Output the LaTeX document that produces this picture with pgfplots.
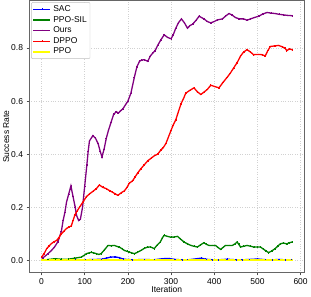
\documentclass[border=0pt]{standalone}
\usepackage{pgfplots}
\pgfplotsset{compat=1.18}
\usepackage{fontspec}
\setmainfont{Liberation Sans}
\definecolor{mplgreen}{HTML}{008000}
\definecolor{mplpurple}{HTML}{800080}
\definecolor{mplyellow}{HTML}{FFFF00}
\begin{document}
\begin{tikzpicture}
\begin{axis}[
  scale only axis, width=275bp, height=272bp,
  xmin=-29, xmax=609, ymin=-0.047, ymax=0.98,
  xtick={0,100,200,300,400,500,600},
  ytick={0,0.2,0.4,0.6,0.8},
  yticklabel style={/pgf/number format/.cd,fixed,fixed zerofill,precision=1},
  /pgf/number format/assume math mode=true,
  tick label style={font=\fontsize{8.5}{10}\selectfont},
  label style={font=\fontsize{8.5}{10}\selectfont},
  xlabel={Iteration}, ylabel={Success Rate},
  xlabel style={yshift=5pt}, ylabel style={yshift=-5pt},
  tick align=outside, xtick pos=bottom, ytick pos=left,
  major tick length=2.5pt,
  every tick/.style={black!70, line width=0.5pt},
  axis line style={black!60, line width=0.6pt},
  grid=major, grid style={dotted, black!18, line width=0.5pt},
  legend cell align=left,
  legend style={font=\fontsize{8.5}{9.5}\selectfont, draw=black!25, rounded corners=1pt, inner sep=1.2pt, row sep=-0.8pt, at={(0.008,0.993)}, anchor=north west},
  every axis plot/.append style={line width=1.3pt, mark=+, mark size=0.9pt, mark options={line width=0.6pt}},
]
\addplot[color=blue] coordinates {
(0,0) (20,0) (40,0.001) (60,0.001) (80,0.002) (100,0.002) (120,0.003) (140,0.004) (150,0.008) (160,0.012) (170,0.013) (180,0.01) (190,0.004) (210,0.002) (240,0.003) (260,0.002) (280,0.006) (295,0.007) (310,0.003) (325,0.002) (340,0.002) (360,0.006) (370,0.008) (380,0.004) (395,0.002) (410,0.002) (430,0.004) (450,0.002) (465,0.002) (480,0.003) (500,0.005) (520,0.002) (535,0.002) (550,0.003) (565,0.002) (580,0.002)
};
\addlegendentry{SAC}
\addplot[color=mplgreen] coordinates {
(0,0.0) (15,0.003) (31,0.006) (46,0.004) (61,0.004) (77,0.008) (92,0.012) (98,0.018) (104,0.025) (110,0.028) (115,0.03) (121,0.028) (127,0.025) (133,0.022) (138,0.025) (146,0.04) (154,0.056) (161,0.055) (169,0.056) (175,0.052) (180,0.05) (186,0.044) (192,0.037) (198,0.034) (203,0.031) (209,0.028) (215,0.025) (222,0.03) (230,0.037) (238,0.045) (246,0.05) (253,0.05) (261,0.044) (268,0.058) (275,0.069) (280,0.085) (284,0.094) (292,0.09) (300,0.087) (307,0.088) (315,0.09) (322,0.08) (330,0.069) (338,0.062) (346,0.056) (353,0.053) (361,0.05) (368,0.058) (376,0.066) (382,0.06) (388,0.056) (395,0.056) (403,0.056) (409,0.048) (415,0.041) (420,0.048) (426,0.056) (434,0.056) (442,0.056) (448,0.062) (453,0.069) (457,0.06) (461,0.05) (468,0.053) (476,0.056) (484,0.053) (492,0.05) (500,0.05) (507,0.05) (514,0.042) (520,0.035) (526,0.029) (533,0.035) (541,0.044) (547,0.053) (553,0.062) (560,0.065) (568,0.062) (574,0.066) (580,0.069)
};
\addlegendentry{PPO-SIL}
\addplot[color=mplpurple] coordinates {
(0,0.0) (4,0.01) (15,0.025) (23,0.037) (30,0.05) (38,0.07) (46,0.11) (50,0.15) (54,0.18) (58,0.22) (63,0.25) (68,0.28) (73,0.24) (78,0.20) (81,0.17) (86,0.15) (90,0.155) (95,0.20) (100,0.28) (105,0.36) (108,0.41) (111,0.45) (119,0.47) (125,0.46) (131,0.44) (136,0.41) (140,0.39) (145,0.42) (150,0.46) (155,0.49) (161,0.52) (167,0.55) (173,0.56) (178,0.555) (184,0.565) (188,0.57) (192,0.58) (200,0.60) (207,0.63) (215,0.69) (221,0.73) (227,0.75) (232,0.755) (238,0.756) (246,0.75) (252,0.77) (257,0.78) (263,0.79) (269,0.81) (276,0.83) (284,0.85) (292,0.84) (300,0.835) (305,0.85) (311,0.875) (317,0.895) (324,0.91) (331,0.895) (338,0.875) (344,0.885) (350,0.89) (358,0.905) (365,0.92) (376,0.91) (384,0.90) (392,0.895) (400,0.90) (407,0.906) (419,0.91) (426,0.92) (434,0.93) (441,0.925) (449,0.915) (458,0.91) (468,0.91) (476,0.905) (484,0.91) (493,0.915) (503,0.92) (512,0.928) (522,0.934) (531,0.932) (541,0.93) (551,0.927) (561,0.925) (570,0.923) (580,0.922)
};
\addlegendentry{Ours}
\addplot[color=red] coordinates {
(0,0.012) (6,0.025) (12,0.044) (18,0.055) (23,0.063) (29,0.07) (35,0.075) (40,0.085) (46,0.10) (52,0.11) (58,0.12) (63,0.125) (69,0.13) (73,0.15) (77,0.17) (82,0.185) (88,0.20) (96,0.22) (104,0.24) (111,0.25) (119,0.26) (127,0.27) (134,0.284) (142,0.275) (150,0.27) (158,0.262) (165,0.256) (171,0.25) (177,0.245) (185,0.255) (192,0.262) (198,0.275) (203,0.29) (211,0.30) (217,0.315) (223,0.33) (230,0.345) (238,0.36) (246,0.375) (254,0.385) (262,0.395) (269,0.40) (276,0.415) (282,0.425) (288,0.44) (294,0.465) (300,0.49) (305,0.51) (311,0.53) (317,0.56) (323,0.59) (329,0.61) (334,0.63) (343,0.64) (353,0.65) (361,0.635) (369,0.625) (377,0.635) (384,0.644) (392,0.66) (401,0.655) (411,0.65) (420,0.67) (430,0.69) (437,0.705) (445,0.725) (453,0.745) (461,0.77) (468,0.785) (476,0.794) (484,0.785) (491,0.775) (501,0.776) (511,0.775) (518,0.77) (524,0.79) (530,0.806) (540,0.808) (549,0.81) (557,0.805) (564,0.80) (568,0.79) (574,0.797) (580,0.794)
};
\addlegendentry{DPPO}
\addplot[color=mplyellow, line width=1.7pt] coordinates {
(0,0) (20,0) (40,0) (60,0) (80,0) (100,0) (120,0) (140,0) (160,0) (180,0) (200,0) (220,0) (240,0) (260,0) (280,0) (300,0) (320,0) (340,0) (360,0) (380,0) (400,0) (420,0) (440,0) (460,0) (480,0) (500,0) (520,0) (540,0) (560,0) (580,0)
};
\addlegendentry{PPO}
\end{axis}
\end{tikzpicture}
\end{document}
